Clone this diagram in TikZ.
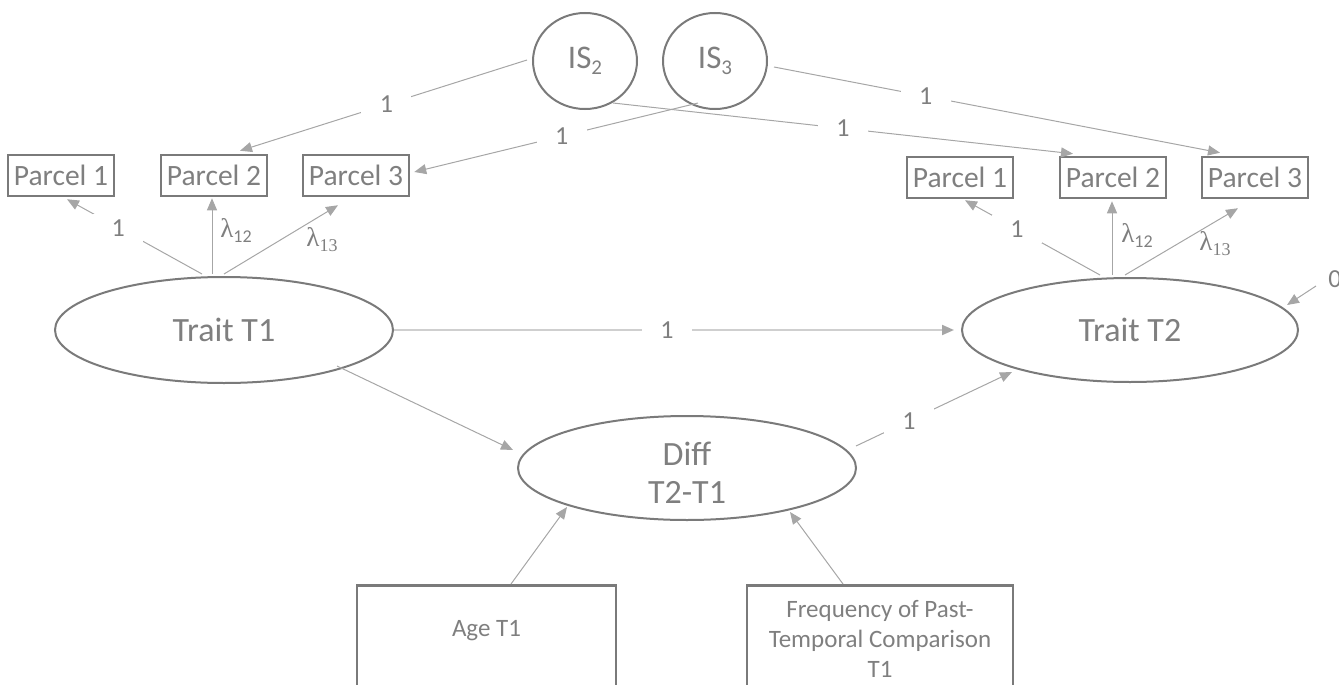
\documentclass[tikz,border=0pt]{standalone}
\usepackage{fontspec}
\setmainfont{Carlito}
\newfontfamily\lamfont{Liberation Serif}
\usetikzlibrary{arrows.meta,calc,shapes.geometric}
\definecolor{txt}{HTML}{7F7F7F}
\definecolor{edgec}{HTML}{7A7A7A}
\definecolor{arr}{HTML}{A6A6A6}
\definecolor{arrlight}{HTML}{CFCFCF}
\begin{document}
\begin{tikzpicture}[x=1pt,y=-1pt,
  latent/.style={ellipse, draw=edgec, line width=2pt, inner sep=0pt, text=txt,
    font=\fontsize{34}{38}\selectfont, align=center},
  isnode/.style={ellipse, draw=edgec, line width=2pt, inner sep=0pt, text=txt,
    minimum width=104pt, minimum height=96pt, font=\fontsize{33}{38}\selectfont},
  parcel/.style={rectangle, draw=edgec, line width=2.5pt, minimum width=106pt,
    minimum height=41pt, inner sep=0pt, text=txt, font=\fontsize{29.5}{30}\selectfont},
  bigbox/.style={rectangle, draw=edgec, line width=2.5pt, inner sep=0pt},
  boxtext/.style={text=txt, font=\fontsize{25}{30}\selectfont, align=center, inner sep=0pt},
  conn/.style={draw=arr, line width=1pt, -{Triangle[length=12pt,width=10pt]}},
  connlight/.style={draw=arrlight, line width=2pt, -{Triangle[length=12pt,width=10pt,color=arr]}},
  lbl/.style={fill=white, text=txt, font=\fontsize{26}{28}\selectfont, inner sep=0pt,
    minimum width=50pt, minimum height=28pt},
  lam/.style={text=txt, inner sep=0pt}
]
\useasboundingbox (0,0) rectangle (1339,685);
\clip (0,0) rectangle (1339,685);

% latent variables
\node[isnode] (is2) at (585,61) {IS{\fontsize{21}{21}\selectfont\raisebox{-6pt}{2}}};
\node[isnode] (is3) at (715,61) {IS{\fontsize{21}{21}\selectfont\raisebox{-6pt}{3}}};
\node[latent, minimum width=338pt, minimum height=106pt] (t1) at (224,330) {Trait T1};
\node[latent, minimum width=336pt, minimum height=104pt] (t2) at (1130,330) {Trait T2};
\node[latent, minimum width=338pt, minimum height=104pt] (diff) at (687,468) {};
\node[text=txt, font=\fontsize{34}{38}\selectfont, align=center, inner sep=0pt] (difftxt)
  at ($(diff.center)+(0,5)$) {Diff\\T2-T1};

% parcels
\node[parcel] (lp1) at (61,175.5) {Parcel 1};
\node[parcel] (lp2) at (214,175.5) {Parcel 2};
\node[parcel] (lp3) at (356,175.5) {Parcel 3};
\node[parcel] (rp1) at (960,177.5) {Parcel 1};
\node[parcel] (rp2) at (1113,177.5) {Parcel 2};
\node[parcel] (rp3) at (1255,177.5) {Parcel 3};

% covariates
\node[bigbox, minimum width=259pt, minimum height=150pt, anchor=north] (age) at (486.5,584) {};
\node[boxtext] (agetxt) at ($(age.north)+(0,47)$) {Age T1};
\node[bigbox, minimum width=266pt, minimum height=150pt, anchor=north] (freq) at (880,584) {};
\node[boxtext] (freqtxt) at ($(freq.north)+(0,55)$) {Frequency of Past-\\Temporal Comparison\\T1};

% residual label
\node[text=txt, font=\fontsize{26}{28}\selectfont, inner sep=0pt] (zero) at (1335,279) {0};

% intercept paths
\draw[conn] ($(is2.west)+(-5,-1)$) -- node[lbl,pos=0.49]{1} ($(lp2.north)+(26,-3)$);
\draw[conn] ($(is3.center)+(-17,42)$) -- node[lbl,pos=0.48]{1} ($(lp3.east)+(4,-3.5)$);
\draw[conn] ($(is2.center)+(28,42)$) -- node[lbl,pos=0.5]{1} ($(rp2.north)+(-40,-2)$);
\draw[conn] ($(is3.center)+(59,6)$) -- node[lbl,pos=0.34]{1} ($(rp3.north)+(-35,-3)$);

% loadings T1
\draw[conn] ($(t1.north)+(-22,-2)$) -- node[lbl,pos=0.62]{1} ($(lp1.south)+(6,2)$);
\draw[conn] ($(t1.north)+(-12,-2)$) -- ($(lp2.south)+(-2,1)$);
\draw[conn] ($(t1.north)+(0,-2)$) -- ($(lp3.south)+(-18,8)$);
\node[lam] (l12a) at ($(t1.north)+(12,-46)$) {{\lamfont\fontsize{27}{27}\selectfont λ}{\fontsize{18}{18}\selectfont\raisebox{-5pt}{12}}};
\node[lam] (l13a) at ($(t1.north)+(98,-36)$) {{\lamfont\fontsize{27}{27}\selectfont λ\fontsize{18}{18}\selectfont\raisebox{-5pt}{13}}};

% loadings T2
\draw[conn] ($(t2.north)+(-30,-2)$) -- node[lbl,pos=0.615]{1} ($(rp1.south)+(5,1)$);
\draw[conn] ($(t2.north)+(-18,-2)$) -- ($(rp2.south)+(-1,2)$);
\draw[conn] ($(t2.north)+(-5,-2)$) -- ($(rp3.south)+(-17,9)$);
\node[lam] (l12b) at ($(t2.north)+(7,-42)$) {{\lamfont\fontsize{27}{27}\selectfont λ}{\fontsize{18}{18}\selectfont\raisebox{-5pt}{12}}};
\node[lam] (l13b) at ($(t2.north)+(85,-33)$) {{\lamfont\fontsize{27}{27}\selectfont λ\fontsize{18}{18}\selectfont\raisebox{-5pt}{13}}};

% structural paths
\draw[connlight] (t1.east) -- node[lbl,pos=0.4875]{1} ($(t2.west)+(-7,0)$);
\draw[conn] ($(t1.center)+(113,36)$) -- ($(diff.center)+(-174,-18)$);
\draw[conn] ($(diff.center)+(169,-22)$) -- node[lbl,pos=0.34]{1} ($(t2.center)+(-118,42)$);
\draw[conn] ($(age.north)+(24.5,0)$) -- ($(diff.center)+(-120,39)$);
\draw[conn] ($(freq.north)+(-37,0)$) -- ($(diff.center)+(103,44)$);
\draw[conn] ($(zero.center)+(-19,7)$) -- ($(t2.center)+(157,-25)$);
\end{tikzpicture}
\end{document}
